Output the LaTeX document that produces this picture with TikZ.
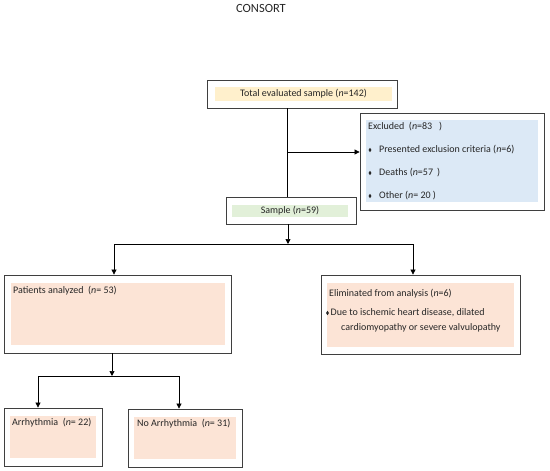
\documentclass[tikz,border=0pt]{standalone}
\usepackage{amssymb}
\usepackage{fontspec}
\setmainfont{Carlito}
\usetikzlibrary{arrows.meta,positioning,shapes.geometric}

\definecolor{boxline}{HTML}{3F3F3F}
\definecolor{txtcol}{HTML}{262626}
\definecolor{yel}{HTML}{FFF0CC}
\definecolor{grn}{HTML}{E2F0D9}
\definecolor{blu}{HTML}{DCE9F6}
\definecolor{pch}{HTML}{FCE4D6}

\begin{document}
\begin{tikzpicture}[x=1pt,y=-1pt,
  outer/.style 2 args={draw=boxline,line width=0.8pt,inner sep=0pt,minimum width=#1,minimum height=#2},
  inbox/.style n args={3}{fill=#1,inner sep=0pt,minimum width=#2,minimum height=#3,
    font=\fontsize{10}{12}\selectfont,text=txtcol},
  txt/.style={anchor=west,inner sep=0pt,font=\fontsize{10}{12}\selectfont,text=txtcol},
  dia/.style={diamond,fill=txtcol,inner sep=0pt,minimum width=3pt,minimum height=4.5pt},
  ln/.style={draw=black,line width=0.7pt},
  arr/.style={ln,-{Triangle[length=5pt,width=5pt]}}]
  \useasboundingbox (0,0) rectangle (550,471);

  \node[font=\fontsize{12.5}{14}\selectfont,text=txtcol] (title) at (261,8) {CONSORT};

  % top of the flow
  \node[outer={190}{28}] (total) at (302,94) {};
  \node[inbox={yel}{177}{14}] (totalin) at (303.5,94) {Total evaluated sample (\textit{n}=142)};
  \node[outer={130}{27}] (sample) at (291,210.5) {};
  \node[inbox={grn}{116}{12}] (samplein) at (290,211) {Sample (\textit{n}=59)};

  \node[outer={184}{97}] (excl) at (452,161.5) {};
  \node[inbox={blu}{172}{82}] (exclin) at (452,161) {};
  \node[txt] (excl0) at (368,127) {Excluded \ (\textit{n}=83 \ \ )};
  \foreach \y/\t [count=\i] in {150/{Presented exclusion criteria (\textit{n}=6)},
      173/{Deaths (\textit{n}=57 \,)}, 196/{Other (\textit{n}= 20 )}}{
    \node[dia] (bul\i) at (370,\y) {};
    \node[txt] (excl\i) at (379,\y) {\t};
  }

  % second row
  \node[outer={227}{78}] (patients) at (117.5,314) {};
  \node[inbox={pch}{214}{62}] (patientsin) at (118,314) {};
  \node[txt] (patientstx) at (13,291) {Patients analyzed \ (\textit{n}= 53)};

  \node[outer={199}{79}] (elim) at (420.5,314.5) {};
  \node[inbox={pch}{187}{64}] (elimin) at (420.5,315) {};
  \node[txt] (elim0) at (329,294) {Eliminated from analysis (\textit{n}=6)};
  \node[dia] (bul4) at (327.5,313) {};
  \node[txt] (elim1) at (330.5,313) {Due to ischemic heart disease, dilated};
  \node[txt] (elim2) at (341,328) {cardiomyopathy or severe valvulopathy};

  % third row
  \node[outer={98}{58}] (arrh) at (53,437) {};
  \node[inbox={pch}{86}{42}] (arrhin) at (53,437) {};
  \node[txt] (arrhtx) at (12,423) {Arrhythmia \ (\textit{n}= 22)};
  \node[outer={114}{58}] (noarrh) at (185,438) {};
  \node[inbox={pch}{102}{42}] (noarrhin) at (185,438) {};
  \node[txt] (noarrhtx) at (137,424) {No Arrhythmia \ (\textit{n}= 31)};

  % connectors
  \coordinate (split) at (287,152);
  \draw[ln] (split |- total.south) -- (split |- sample.north);
  \draw[arr] (split) -- (split -| excl.west);

  \coordinate (jn1) at (288,244);
  \coordinate (jl) at (114,244);
  \coordinate (jr) at (413,244);
  \draw[arr] (sample.south -| jn1) -- (jn1);
  \draw[ln] (jl) -- (jr);
  \draw[arr] (jl) -- (jl |- patients.north);
  \draw[arr] (jr) -- (jr |- elim.north);

  \coordinate (jn2) at (112,376);
  \coordinate (kl) at (38,376);
  \coordinate (kr) at (179,376);
  \draw[arr] (patients.south -| jn2) -- (jn2);
  \draw[ln] (kl) -- (kr);
  \draw[arr] (kl) -- (kl |- arrh.north);
  \draw[arr] (kr) -- (kr |- noarrh.north);
\end{tikzpicture}
\end{document}
